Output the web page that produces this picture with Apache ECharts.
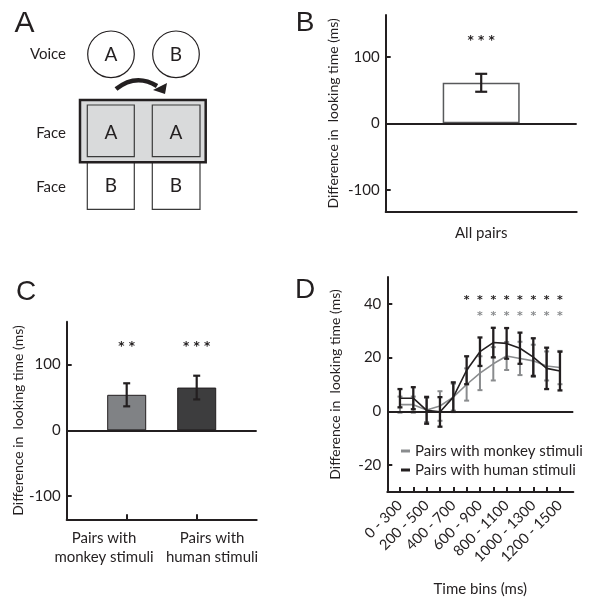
<!DOCTYPE html>
<html>
<head>
<meta charset="utf-8">
<script src="https://cdn.jsdelivr.net/npm/echarts@6/dist/echarts.min.js"></script>
<style>
html,body{margin:0;padding:0;background:#fff;}
#chart{width:592px;height:598px;}
</style>
</head>
<body>
<div id="chart"></div>
<script>
// ---------- Panel B ----------
const bCategories = ['All pairs'];
const bValues = [61];
const bErrors = [13.5];
const bStars = ['* * *'];
const bStarLevel = 128;
const bTicks = [-100, 0, 100];

// ---------- Panel C ----------
const cCategories = ['Pairs with\nmonkey stimuli', 'Pairs with\nhuman stimuli'];
const cValues = [54, 65];
const cErrors = [17.5, 18];
const cStars = ['* *', '* * *'];
const cStarLevel = 132;
const cTicks = [-100, 0, 100];

// ---------- Panel D ----------
const dBins = ['0 - 300', '100 - 400', '200 - 500', '300 - 600', '400 - 700', '500 - 800', '600 - 900',
  '700 - 1000', '800 - 1100', '900 - 1200', '1000 - 1300', '1100 - 1400', '1200 - 1500'];
const dMonkey = [2.5, 2.5, 0.5, 2, 5.3, 10, 14.2, 17.7, 20.6, 19.7, 18.8, 16.9, 16.3];
const dMonkeyErr = [3, 3, 4.5, 5.5, 5, 6, 6.3, 6.2, 5.2, 6.2, 6, 5.4, 6.2];
const dHuman = [4.9, 4.9, 0.4, -0.2, 5.3, 15.3, 22.2, 25.6, 25.3, 23.5, 20.2, 16, 15];
const dHumanErr = [3.4, 4.1, 5, 5.5, 5.5, 5.2, 5.3, 5.5, 5.7, 5.8, 7, 7.7, 7.2];
const dHumanStars = [0, 0, 0, 0, 0, 1, 1, 1, 1, 1, 1, 1, 1];
const dMonkeyStars = [0, 0, 0, 0, 0, 0, 1, 1, 1, 1, 1, 1, 1];
const dHumanStarLevel = 42.5;
const dMonkeyStarLevel = 36.4;
const dTicks = [-20, 0, 20, 40];
const dSeriesNames = ['Pairs with monkey stimuli', 'Pairs with human stimuli'];

const INK = '#231f20';
const GREY_LINE = '#8a8c8e';
const FONT = 'Lato';
const STAR_FONT = 'DejaVu Sans';
const yName = 'Difference in  looking time (ms)';

function errRender(capW, color, lw) {
  return function (params, api) {
    const x = api.value(0), v = api.value(1), e = api.value(2);
    const top = api.coord([x, v + e]);
    const bot = api.coord([x, v - e]);
    const st = { stroke: color, lineWidth: lw };
    return {
      type: 'group', children: [
        { type: 'line', shape: { x1: top[0], y1: top[1], x2: bot[0], y2: bot[1] }, style: st },
        { type: 'line', shape: { x1: top[0] - capW / 2, y1: top[1], x2: top[0] + capW / 2, y2: top[1] }, style: st },
        { type: 'line', shape: { x1: bot[0] - capW / 2, y1: bot[1], x2: bot[0] + capW / 2, y2: bot[1] }, style: st }
      ]
    };
  };
}
function starRender(fontSize, color) {
  return function (params, api) {
    const p = api.coord([api.value(0), api.value(1)]);
    const t = api.value(2);
    return {
      type: 'text',
      style: {
        text: t ? String(t) : '', x: p[0], y: p[1] + fontSize * 0.25,
        align: 'center', verticalAlign: 'middle',
        fontSize: fontSize, fontFamily: STAR_FONT, fontWeight: 'bold', fill: color
      }
    };
  };
}

function valueY(grid, min, max, ticks, gap) {
  return {
    type: 'value', gridIndex: grid, min: min, max: max,
    axisLine: { show: true, onZero: false, lineStyle: { color: INK, width: 2 } },
    axisTick: { show: true, inside: true, length: 5, lineStyle: { color: INK, width: 2 }, customValues: ticks },
    axisLabel: { customValues: ticks, color: INK, fontSize: 15, fontFamily: FONT, margin: 6 },
    splitLine: { show: false },
    name: yName, nameLocation: 'middle', nameGap: gap,
    nameTextStyle: { color: INK, fontSize: 14, fontFamily: FONT }
  };
}
const zeroLine = {
  silent: true, symbol: ['none', 'none'], label: { show: false },
  lineStyle: { color: INK, width: 2, type: 'solid' },
  emphasis: { disabled: true },
  data: [{ yAxis: 0 }]
};
function txt(t, x, y, size, align, family) {
  return { type: 'text', style: { text: t, x: x, y: y, align: align || 'center', verticalAlign: 'middle',
    fontSize: size, fontFamily: family || FONT, fill: INK } };
}

const option = {
  animation: false,
  textStyle: { fontFamily: FONT },
  grid: [
    { left: 385.7, top: 15, width: 191, height: 196.7 },
    { left: 66.7, top: 321.7, width: 190, height: 197.6 },
    { left: 387.3, top: 277, width: 186, height: 216.3 }
  ],
  xAxis: [
    {
      type: 'category', gridIndex: 0, data: bCategories,
      axisLine: { onZero: false, lineStyle: { color: INK, width: 2 } },
      axisTick: { show: false },
      axisLabel: { color: INK, fontSize: 15, fontFamily: FONT, margin: 14 }
    },
    {
      type: 'value', gridIndex: 1, min: -0.857, max: 1.857,
      axisLine: { onZero: false, lineStyle: { color: INK, width: 2 } },
      axisTick: { show: true, inside: true, length: 5, lineStyle: { color: INK, width: 2 }, customValues: [0, 1] },
      axisLabel: {
        // the two labels sit spread out from their tick marks, as in the reference
        customValues: [-0.324, 1.219],
        formatter: function (v) { return cCategories[v < 0.5 ? 0 : 1]; },
        color: INK, fontSize: 15, fontFamily: FONT, lineHeight: 19, margin: 9,
        hideOverlap: false
      },
      splitLine: { show: false }
    },
    {
      type: 'value', gridIndex: 2, min: -0.95, max: 13.0,
      axisLine: { onZero: false, lineStyle: { color: INK, width: 2 } },
      axisTick: { show: true, inside: true, length: 5, lineStyle: { color: INK, width: 2 },
        customValues: dBins.map(function (_, i) { return i; }) },
      axisLabel: {
        customValues: dBins.map(function (_, i) { return i; }).filter(function (i) { return i % 2 === 0; }),
        formatter: function (v) { return dBins[Math.round(v)]; },
        rotate: 45, color: INK, fontSize: 14.5, fontFamily: FONT, margin: 11, hideOverlap: false
      },
      splitLine: { show: false },
      name: 'Time bins (ms)', nameLocation: 'middle', nameGap: 90,
      nameTextStyle: { color: INK, fontSize: 15, fontFamily: FONT }
    }
  ],
  yAxis: [
    valueY(0, -133, 163, bTicks, 45),
    valueY(1, -135, 165, cTicks, 37),
    valueY(2, -30, 50, dTicks, 45)
  ],
  legend: {
    orient: 'vertical', left: 396, top: 438, itemGap: 3,
    itemWidth: 9, itemHeight: 3, icon: 'rect',
    textStyle: { color: INK, fontSize: 15, fontFamily: FONT, lineHeight: 16 },
    data: dSeriesNames, selectedMode: false
  },
  series: [
    // Panel B
    {
      type: 'bar', xAxisIndex: 0, yAxisIndex: 0, data: bValues, barWidth: 77,
      itemStyle: { color: '#ffffff', borderColor: '#58595b', borderWidth: 1.5 },
      markLine: zeroLine, silent: true
    },
    {
      type: 'custom', xAxisIndex: 0, yAxisIndex: 0, renderItem: errRender(12, INK, 2.2),
      data: bValues.map(function (v, i) { return [i, v, bErrors[i]]; }), z: 5
    },
    {
      type: 'custom', xAxisIndex: 0, yAxisIndex: 0, renderItem: starRender(12, INK),
      data: bStars.map(function (s, i) { return [i, bStarLevel, s]; }), z: 5
    },
    // Panel C
    {
      type: 'bar', xAxisIndex: 1, yAxisIndex: 1, barWidth: 39,
      data: [
        { value: [0, cValues[0]], itemStyle: { color: '#808285' } },
        { value: [1, cValues[1]], itemStyle: { color: '#3d3d3e' } }
      ],
      itemStyle: { borderColor: INK, borderWidth: 1 },
      markLine: zeroLine, silent: true
    },
    {
      type: 'custom', xAxisIndex: 1, yAxisIndex: 1, renderItem: errRender(7, INK, 2.2),
      data: cValues.map(function (v, i) { return [i, v, cErrors[i]]; }), z: 5
    },
    {
      type: 'custom', xAxisIndex: 1, yAxisIndex: 1, renderItem: starRender(12, INK),
      data: cStars.map(function (s, i) { return [i, cStarLevel, s]; }), z: 5
    },
    // Panel D
    {
      type: 'custom', xAxisIndex: 2, yAxisIndex: 2, renderItem: errRender(5, GREY_LINE, 2),
      data: dMonkey.map(function (v, i) { return [i, v, dMonkeyErr[i]]; }), z: 2
    },
    {
      name: dSeriesNames[0], type: 'line', xAxisIndex: 2, yAxisIndex: 2, symbol: 'none',
      data: dMonkey.map(function (v, i) { return [i, v]; }),
      lineStyle: { color: GREY_LINE, width: 1.6 }, itemStyle: { color: GREY_LINE }, z: 3,
      markLine: zeroLine
    },
    {
      type: 'custom', xAxisIndex: 2, yAxisIndex: 2, renderItem: errRender(5, INK, 2.3),
      data: dHuman.map(function (v, i) { return [i, v, dHumanErr[i]]; }), z: 4
    },
    {
      name: dSeriesNames[1], type: 'line', xAxisIndex: 2, yAxisIndex: 2, symbol: 'none',
      data: dHuman.map(function (v, i) { return [i, v]; }),
      lineStyle: { color: INK, width: 1.6 }, itemStyle: { color: INK }, z: 5
    },
    {
      type: 'custom', xAxisIndex: 2, yAxisIndex: 2, renderItem: starRender(11, INK),
      data: dHumanStars.map(function (s, i) { return [i, dHumanStarLevel, s ? '*' : '']; }), z: 5
    },
    {
      type: 'custom', xAxisIndex: 2, yAxisIndex: 2, renderItem: starRender(11, GREY_LINE),
      data: dMonkeyStars.map(function (s, i) { return [i, dMonkeyStarLevel, s ? '*' : '']; }), z: 5
    }
  ],
  graphic: [
    txt('A', 24.5, 24, 30, 'center', 'Liberation Sans'),
    txt('B', 305, 23, 28, 'center', 'Liberation Sans'),
    txt('C', 26, 292.5, 28, 'center', 'Liberation Sans'),
    txt('D', 305, 290, 28, 'center', 'Liberation Sans'),
    txt('Voice', 66, 54.5, 15, 'right'),
    txt('Face', 66, 133, 15, 'right'),
    txt('Face', 66, 187, 15, 'right'),
    { type: 'circle', shape: { cx: 111, cy: 54.3, r: 23.3 }, style: { fill: '#fff', stroke: INK, lineWidth: 1.2 } },
    { type: 'circle', shape: { cx: 176, cy: 54.3, r: 23.3 }, style: { fill: '#fff', stroke: INK, lineWidth: 1.2 } },
    txt('A', 111, 55, 19),
    txt('B', 176, 55, 19),
    { type: 'bezierCurve', shape: { x1: 116, y1: 89, cpx1: 136, cpy1: 73, x2: 157, y2: 86 }, style: { stroke: INK, lineWidth: 4.5, fill: null } },
    { type: 'polygon', shape: { points: [[153, 90], [167, 83], [165, 94]] }, style: { fill: INK } },
    { type: 'rect', shape: { x: 87.3, y: 156.7, width: 47, height: 52.6 }, style: { fill: '#fff', stroke: '#3a3a3a', lineWidth: 1.2 } },
    { type: 'rect', shape: { x: 152.3, y: 156.7, width: 47.7, height: 52.6 }, style: { fill: '#fff', stroke: '#3a3a3a', lineWidth: 1.2 } },
    { type: 'rect', shape: { x: 80, y: 100, width: 125.7, height: 62.3 }, style: { fill: '#d9dadb', stroke: INK, lineWidth: 2.5 } },
    { type: 'rect', shape: { x: 87.3, y: 105, width: 47, height: 51.7 }, style: { fill: '#d9dadb', stroke: '#3a3a3a', lineWidth: 1.2 } },
    { type: 'rect', shape: { x: 152.3, y: 105, width: 47.7, height: 51.7 }, style: { fill: '#d9dadb', stroke: '#3a3a3a', lineWidth: 1.2 } },
    txt('A', 111, 133, 19),
    txt('A', 176, 133, 19),
    txt('B', 111, 186, 19),
    txt('B', 176, 186, 19)
  ]
};

const chart = echarts.init(document.getElementById('chart'), null, { renderer: 'canvas' });
chart.setOption(option);
</script>
</body>
</html>
